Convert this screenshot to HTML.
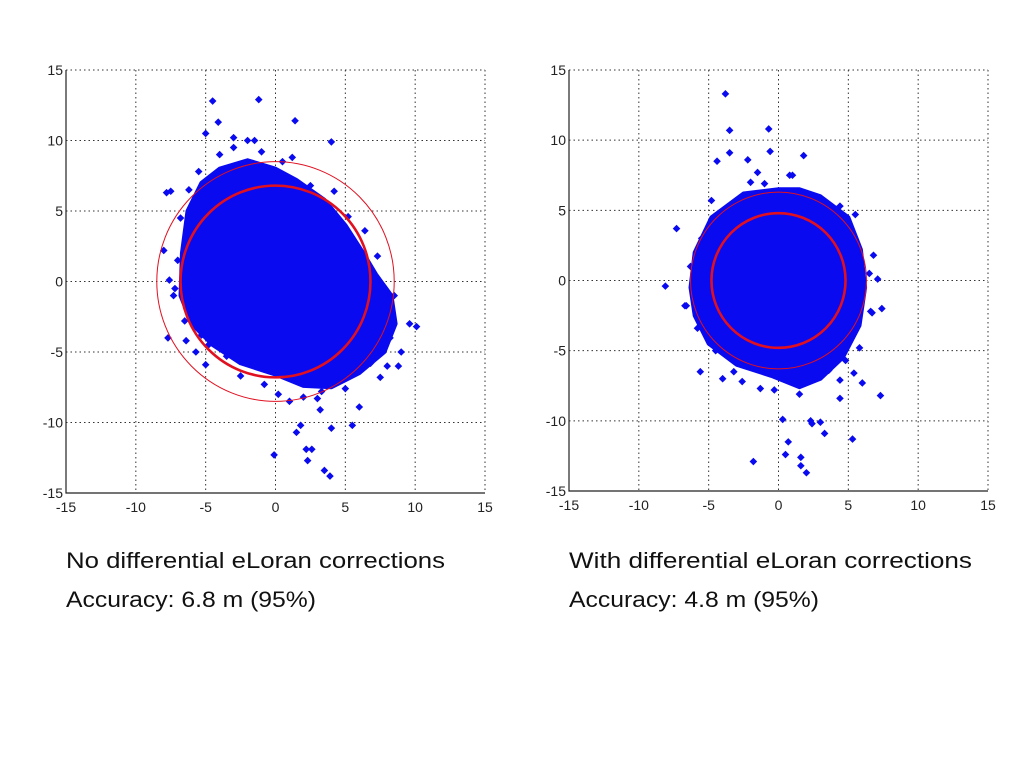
<!DOCTYPE html>
<html><head><meta charset="utf-8"><style>
body{margin:0;background:#fff;}
svg{display:block;font-family:"Liberation Sans",sans-serif;}
</style></head><body>
<svg id="s" width="1024" height="767" viewBox="0 0 1024 767">
<rect width="1024" height="767" fill="#fff"/>
<text x="66" y="568" font-size="22" fill="#111" textLength="379" lengthAdjust="spacingAndGlyphs">No differential eLoran corrections</text>
<text x="66" y="607" font-size="22" fill="#111" textLength="250" lengthAdjust="spacingAndGlyphs">Accuracy: 6.8 m (95%)</text>
<text x="569" y="568" font-size="22" fill="#111" textLength="403" lengthAdjust="spacingAndGlyphs">With differential eLoran corrections</text>
<text x="569" y="607" font-size="22" fill="#111" textLength="250" lengthAdjust="spacingAndGlyphs">Accuracy: 4.8 m (95%)</text>
</svg>
<script>
const ticks=[-15,-10,-5,0,5,10,15];
const tickLabels=["-15","-10","-5","0","5","10","15"];
const leftBlob=[[-2,8.6],[-4,8],[-5.3,7],[-6.3,5],[-6.7,2],[-6.8,-1],[-6,-3],[-4.5,-4.5],[-2.5,-5.8],[0,-6.6],[2,-7.4],[4,-7.5],[6,-6.5],[7.8,-5],[8.6,-3],[8.3,-1],[7.2,0.5],[6.3,2],[5,4],[3.5,5.8],[1.5,7.2],[0,8]];
const leftOutX=[-4.5,-1.2,1.4,-4.1,-1.5,4,-5,-3,-7.8,-7.5,-8,-7.6,-7.2,-6.4,-7.7,-6,-5.7,8.5,9.6,10.1,9,8.8,7.5,8,1.8,2.2,2.6,2.3,3.5,3.9,4,5.5,6,-0.1,1.5,1,-4.8,-5.3,3.2,-2,
 -5.5,-6.2,-6.8,-7,-4,-3,-1,0.5,1.2,2.5,4.2,5.2,6.4,7.3,7.8,8.2,6.8,5,3,-3.5,-5,-6.5,-7.3,-2.5,-0.8,2,3.3,0.2];
const leftOutY=[12.8,12.9,11.4,11.3,10,9.9,10.5,10.2,6.3,6.4,2.2,0.1,-0.5,-4.2,-4,-2,-5,-1,-3,-3.2,-5,-6,-6.8,-6,-10.2,-11.9,-11.9,-12.7,-13.4,-13.8,-10.4,-10.2,-8.9,-12.3,-10.7,-8.5,-4.5,-3.8,-9.1,10,
 7.8,6.5,4.5,1.5,9,9.5,9.2,8.5,8.8,6.8,6.4,4.6,3.6,1.8,-2,-4,-5.8,-7.6,-8.3,-5.3,-5.9,-2.8,-1,-6.7,-7.3,-8.2,-7.8,-8];
const rightBlob=[[0,6.5],[-2.5,6.2],[-4.8,4.5],[-6,2],[-6.3,-0.5],[-6,-2.5],[-5,-4.5],[-3,-6],[-0.5,-6.8],[1.5,-7.6],[3,-7],[4.6,-5.5],[5.8,-3.2],[6.2,-0.5],[5.9,2.2],[5,4.5],[3,6],[1.5,6.5]];
const rightOutX=[-3.8,-3.5,-0.7,-3.5,-4.4,-0.6,1.8,-2.2,-1.5,0.8,-7.3,-8.1,-6.7,6.8,7.1,7.3,6.7,7.4,6,5.4,4.4,-5.6,-4,-2.6,-1.8,0.7,0.3,2.3,2.4,3,3.3,5.3,0.5,1.6,1.6,2,4.4,-1.3,
 -4.8,-5.5,-6.3,-6.6,-2,-1,1,2.5,4.4,5.5,6.5,6.6,5.8,4.8,-4.5,-5.8,-3.2,-0.3,1.5,3.6];
const rightOutY=[13.3,10.7,10.8,9.1,8.5,9.2,8.9,8.6,7.7,7.5,3.7,-0.4,-1.8,1.8,0.1,-8.2,-2.3,-2,-7.3,-6.6,-8.4,-6.5,-7,-7.2,-12.9,-11.5,-9.9,-10,-10.2,-10.1,-10.9,-11.3,-12.4,-12.6,-13.2,-13.7,-7.1,-7.7,
 5.7,3,1,-1.8,7,6.9,7.5,6,5.3,4.7,0.5,-2.2,-4.8,-5.7,-5,-3.4,-6.5,-7.8,-8.1,-6.4];
const NS='http://www.w3.org/2000/svg';
const svg=document.getElementById('s');
function mk(tag,attrs,parent){const e=document.createElementNS(NS,tag);for(const k in attrs)e.setAttribute(k,attrs[k]);(parent||svg).appendChild(e);return e;}
function panel(id,L,R,T,B,blob,ox,oy,r1,r2){
  const sx=v=>L+(v+15)/30*(R-L), sy=v=>B-(v+15)/30*(B-T);
  const g=mk('g',{});
  
  
  ticks.forEach((t,i)=>{
    if(i>0&&i<6){
      const gv=mk('line',{x1:sx(t),x2:sx(t),y1:T,y2:B,stroke:'#333','stroke-width':1,'stroke-dasharray':'1.5 3'},g);
      
      const gh=mk('line',{x1:L,x2:R,y1:sy(t),y2:sy(t),stroke:'#333','stroke-width':1,'stroke-dasharray':'1.5 3'},g);
      
    }
    const tx=mk('text',{x:sx(t),y:B+19,'font-size':14,'text-anchor':'middle',fill:'#222'},g);
    tx.textContent=tickLabels[i];
    
    const ty=mk('text',{x:L-3,y:sy(t)+5,'font-size':14,'text-anchor':'end',fill:'#222'},g);
    ty.textContent=tickLabels[i];
    
  });
  const last=mk('line',{x1:R,x2:R,y1:T,y2:B,stroke:'#333','stroke-dasharray':'1.5 3'},g);
  
  const top=mk('line',{x1:L,x2:R,y1:T,y2:T,stroke:'#333','stroke-dasharray':'1.5 3'},g);
  
  const ax=mk('path',{d:`M${L},${T}V${B}H${R}`,fill:'none',stroke:'#222','stroke-width':1.2},g);
  
  const bl=mk('polygon',{points:blob.map(p=>sx(p[0])+','+sy(p[1])).join(' '),fill:'#0a0af0',stroke:'#0a0af0','stroke-width':4,'stroke-linejoin':'round'},g);
  
  ox.forEach((x,i)=>{
    const cx=sx(x),cy=sy(oy[i]);
    const d=mk('polygon',{points:`${cx},${cy-3.8} ${cx+3.8},${cy} ${cx},${cy+3.8} ${cx-3.8},${cy}`,fill:'#0a0af0'},g);
    
  });
  const c1=mk('ellipse',{cx:sx(0),cy:sy(0),rx:r1*(R-L)/30,ry:r1*(B-T)/30,fill:'none',stroke:'#e01020','stroke-width':2.6},g);
  
  const c2=mk('ellipse',{cx:sx(0),cy:sy(0),rx:r2*(R-L)/30,ry:r2*(B-T)/30,fill:'none',stroke:'#e01020','stroke-width':1},g);
  
}
panel('left',66,485,70,493,leftBlob,leftOutX,leftOutY,6.8,8.5);
panel('right',569,988,70,491,rightBlob,rightOutX,rightOutY,4.8,6.3);
</script>
</body></html>
